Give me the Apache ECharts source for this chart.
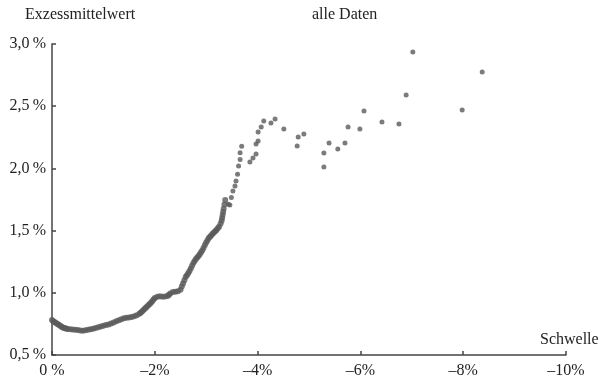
<!DOCTYPE html>
<html>
<head>
<meta charset="utf-8">
<script src="https://cdn.jsdelivr.net/npm/echarts@6/dist/echarts.min.js"></script>
<style>
html,body{margin:0;padding:0;background:#fff;}
#chart{width:602px;height:385px;}
</style>
</head>
<body>
<div id="chart"></div>
<script>
// Threshold (x, in %) and mean excess value (y, in %)
var thresholds = [
  0.00,-0.025,-0.05,-0.075,-0.10,-0.125,-0.15,-0.175,-0.20,-0.225,-0.25,-0.275,-0.30,-0.35,-0.40,-0.45,
  -0.50,-0.55,-0.60,-0.65,-0.70,-0.75,-0.80,-0.85,-0.90,-0.95,
  -1.00,-1.05,-1.10,-1.15,-1.20,-1.25,-1.30,-1.35,-1.40,-1.45,
  -1.50,-1.55,-1.60,-1.65,-1.70,-1.725,-1.75,-1.775,-1.80,-1.825,-1.85,-1.875,-1.90,-1.925,-1.95,-1.975,
  -2.00,-2.05,-2.10,-2.15,-2.20,-2.25,-2.275,-2.30,-2.35,-2.40,-2.45,
  -2.50,-2.525,-2.55,-2.575,-2.60,-2.625,-2.65,-2.675,-2.70,-2.725,-2.75,-2.775,-2.80,-2.825,-2.85,-2.875,-2.90,-2.925,-2.95,-2.975,
  -3.00,-3.025,-3.05,-3.075,-3.10,-3.125,-3.15,-3.175,-3.20,-3.225,-3.25,-3.28,-3.30,-3.31,-3.32,-3.33,-3.34,-3.355,-3.37,
  -3.43,-3.46,-3.49,-3.52,-3.56,-3.58,-3.61,-3.63,-3.66,-3.66,-3.69,
  -3.85,-3.91,-3.97,-3.97,-4.01,-4.01,-4.07,-4.12,-4.26,-4.34,
  -4.51,-4.77,-4.79,-4.90,-5.29,-5.29,-5.39,-5.56,-5.70,-5.76,
  -5.99,-6.07,-6.42,-6.75,-6.89,-7.02,-7.98,-8.37
];
var meanExcess = [
  0.781,0.772,0.765,0.758,0.752,0.745,0.738,0.731,0.724,0.720,0.716,0.713,0.710,0.707,0.705,0.703,
  0.700,0.697,0.695,0.698,0.703,0.707,0.712,0.717,0.723,0.729,
  0.736,0.741,0.746,0.753,0.762,0.771,0.779,0.787,0.795,0.799,
  0.802,0.806,0.812,0.820,0.832,0.840,0.850,0.860,0.870,0.880,0.890,0.900,0.910,0.921,0.932,0.946,
  0.958,0.968,0.972,0.969,0.971,0.975,0.985,0.994,1.006,1.008,1.012,
  1.025,1.050,1.075,1.100,1.128,1.142,1.157,1.176,1.195,1.218,1.240,1.256,1.272,1.284,1.295,1.310,1.325,1.343,1.362,1.384,
  1.405,1.422,1.440,1.451,1.462,1.474,1.485,1.495,1.505,1.518,1.530,1.555,1.580,1.602,1.625,1.650,1.675,1.710,1.746,
  1.711,1.706,1.767,1.818,1.858,1.898,1.952,2.019,2.071,2.125,2.178,
  2.051,2.084,2.116,2.196,2.220,2.293,2.333,2.381,2.365,2.397,
  2.317,2.180,2.252,2.277,2.011,2.124,2.204,2.156,2.204,2.333,
  2.317,2.461,2.373,2.357,2.590,2.936,2.469,2.775
];
var xTickValues = [0,-2,-4,-6,-8,-10];
var xTickLabels = ['0 %','\u20132%','\u20134%','\u20136%','\u20138%','\u201310%'];
var yTickValues = [0.5,1.0,1.5,2.0,2.5,3.0];
var yTickLabels = ['0,5\u2009%','1,0\u2009%','1,5\u2009%','2,0\u2009%','2,5\u2009%','3,0\u2009%'];
var yTitle = 'Exzessmittelwert';
var chartTitle = 'alle Daten';
var xTitle = 'Schwelle';

var pts = thresholds.map(function(x,i){return [x, meanExcess[i]];});
function lab(vals, labels, v){
  for (var i=0;i<vals.length;i++){ if (Math.abs(vals[i]-v)<1e-9) return labels[i]; }
  return '';
}
var font = '"Liberation Serif","Times New Roman",serif';
var axisCol = '#444';
var chart = echarts.init(document.getElementById('chart'));
chart.setOption({
  backgroundColor:'#fff',
  animation:false,
  grid:{left:52,right:36,top:44,bottom:30,containLabel:false},
  xAxis:{
    type:'value', inverse:true, min:-10, max:0, interval:2,
    axisLine:{show:true,onZero:false,lineStyle:{color:axisCol,width:1.5}},
    axisTick:{show:true,inside:true,length:4,lineStyle:{color:axisCol,width:1.5}},
    splitLine:{show:false},
    axisLabel:{margin:8,color:'#222',fontFamily:font,fontSize:16,
      formatter:function(v){return lab(xTickValues,xTickLabels,v);}}
  },
  yAxis:{
    type:'value', min:0.5, max:3.0, interval:0.5,
    axisLine:{show:true,onZero:false,lineStyle:{color:axisCol,width:1.5}},
    axisTick:{show:true,inside:true,length:4,lineStyle:{color:axisCol,width:1.5}},
    splitLine:{show:false},
    axisLabel:{margin:6,color:'#222',fontFamily:font,fontSize:16,
      formatter:function(v){return lab(yTickValues,yTickLabels,v);}}
  },
  graphic:[
    {type:'text',left:25,top:7,style:{text:yTitle,font:'16px '+font,fill:'#222'}},
    {type:'text',left:312,top:7,style:{text:chartTitle,font:'16px '+font,fill:'#222'}},
    {type:'text',left:540,top:332,style:{text:xTitle,font:'16px '+font,fill:'#222'}}
  ],
  series:[{
    type:'scatter', data:pts, symbol:'circle',
    symbolSize:function(v){ return v[0] > -3.4 ? 6 : 5; },
    itemStyle:{color:'#5a5a5a'}
  }]
});
</script>
</body>
</html>
